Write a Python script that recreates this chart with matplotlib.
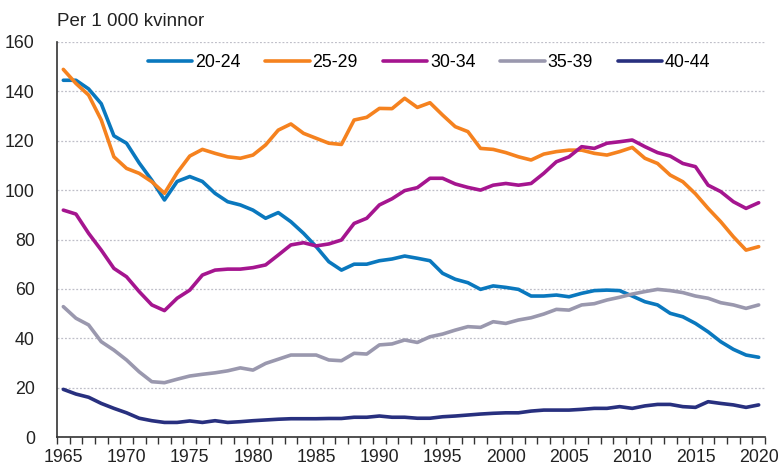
import matplotlib
matplotlib.use("Agg")
import matplotlib.pyplot as plt
from matplotlib.ticker import FixedLocator

plt.rcParams['font.family'] = ['Liberation Sans', 'DejaVu Sans']

years = list(range(1965, 2021))

a20_24 = [144.5, 144.5, 141, 135, 122, 119, 111, 104, 96, 103.5,
          105.5, 103.5, 98.7, 95.3, 94, 91.9, 88.6, 90.9, 87.2, 82.5,
          77.1, 71, 67.6, 70, 70, 71.4, 72.1, 73.3, 72.4, 71.4,
          66.3, 63.9, 62.5, 59.8, 61.2, 60.6, 59.8, 57.1, 57.1, 57.5,
          56.8, 58.2, 59.3, 59.5, 59.3, 57.1, 54.8, 53.5, 50.1, 48.7,
          46, 42.6, 38.6, 35.5, 33.2, 32.3]
a25_29 = [148.9, 143.2, 138.5, 128.4, 113.5, 108.8, 106.8, 103.4, 98.7, 107,
          113.8, 116.5, 114.9, 113.5, 112.9, 114.2, 118.3, 124.3, 126.8, 123,
          121, 119, 118.5, 128.4, 129.5, 133.1, 133, 137.2, 133.5, 135.4,
          130.4, 125.7, 123.7, 116.9, 116.5, 115.2, 113.5, 112.2, 114.6, 115.6,
          116.2, 116.2, 114.9, 114.2, 115.6, 117.3, 112.9, 110.8, 106.1, 103.4,
          98.5, 92.6, 87.2, 81.1, 75.7, 77.1]
a30_34 = [91.9, 90.3, 82.5, 75.7, 68.3, 64.9, 58.9, 53.5, 51.2, 56.2,
          59.5, 65.6, 67.6, 68, 68, 68.6, 69.7, 73.7, 77.8, 78.7,
          77.4, 78.2, 79.8, 86.5, 88.6, 94, 96.5, 99.8, 101, 104.8,
          104.8, 102.5, 101.1, 100, 102, 102.7, 102, 102.7, 106.8, 111.5,
          113.5, 117.6, 116.9, 119, 119.6, 120.3, 117.6, 115.2, 113.8, 110.8,
          109.5, 102, 99.4, 95.3, 92.6, 94.9]
a35_39 = [52.8, 48.1, 45.4, 38.6, 35.2, 31.2, 26.4, 22.4, 22, 23.4,
          24.7, 25.4, 26, 26.8, 28, 27.1, 29.8, 31.5, 33.2, 33.2,
          33.2, 31.2, 30.9, 33.9, 33.6, 37.3, 37.7, 39.3, 38.3, 40.6,
          41.7, 43.3, 44.7, 44.4, 46.7, 46, 47.4, 48.3, 49.8, 51.7,
          51.4, 53.5, 54, 55.5, 56.6, 57.9, 58.9, 59.8, 59.3, 58.5,
          57.1, 56.2, 54.4, 53.5, 52.1, 53.5]
a40_44 = [19.3, 17.4, 16.1, 13.6, 11.6, 9.8, 7.6, 6.6, 5.9, 5.9,
          6.5, 5.9, 6.6, 5.9, 6.2, 6.6, 6.9, 7.2, 7.4, 7.4,
          7.4, 7.5, 7.5, 8, 8, 8.5, 8, 8, 7.6, 7.6,
          8.2, 8.5, 8.9, 9.3, 9.6, 9.8, 9.8, 10.5, 10.9, 10.9,
          10.9, 11.2, 11.6, 11.6, 12.3, 11.6, 12.6, 13.2, 13.2, 12.3,
          12, 14.3, 13.6, 13, 12, 13]

series_labels = ["20-24", "25-29", "30-34", "35-39", "40-44"]
series_values = [a20_24, a25_29, a30_34, a35_39, a40_44]
colors = ['#0a78be', '#f5821f', '#a5158f', '#9a98ae', '#28307f']

y_ticks = [0, 20, 40, 60, 80, 100, 120, 140, 160]
x_ticks = [1965, 1970, 1975, 1980, 1985, 1990, 1995, 2000, 2005, 2010, 2015, 2020]
y_title = "Per 1 000 kvinnor"

fig = plt.figure(figsize=(7.83, 4.68), dpi=100)
ax = fig.add_axes([57/783, 1-437/468, 708/783, 395/468])

for lab, vals, c in zip(series_labels, series_values, colors):
    ax.plot(years, vals, color=c, lw=2.6, label=lab, solid_capstyle='round', solid_joinstyle='round')

ax.set_xlim(1964.5, 2020.5)
ax.set_ylim(0, 160)
ax.set_yticks(y_ticks)
ax.set_xticks(x_ticks)
ax.xaxis.set_minor_locator(FixedLocator([y + 0.5 for y in range(1964, 2021)]))
ax.tick_params(axis='x', which='major', length=0, pad=9, labelsize=12.8, colors='#222222')
ax.tick_params(axis='x', which='minor', length=5, width=1, direction='out', color='#333333')
ax.tick_params(axis='y', which='major', length=0, pad=16, labelsize=12.8, colors='#222222')

ax.grid(axis='y', linestyle=(0, (1.5, 1.5)), color='#bfbfc8', linewidth=0.9)
ax.set_axisbelow(True)
for s in ['top', 'right']:
    ax.spines[s].set_visible(False)
ax.spines['left'].set_color('#333333')
ax.spines['bottom'].set_color('#333333')
ax.spines['left'].set_linewidth(1.2)
ax.spines['bottom'].set_linewidth(1.2)

ax.legend(loc='center left', bbox_to_anchor=(0.1285, 0.947), ncol=5, frameon=False,
          fontsize=12.8, handlelength=2.5, handletextpad=0.15, columnspacing=1.4,
          borderpad=0, borderaxespad=0)

fig.text(57/783, 1-21/468, y_title, ha='left', va='center', fontsize=13.5, color='#222222')

fig.savefig("out.png", dpi=100)
